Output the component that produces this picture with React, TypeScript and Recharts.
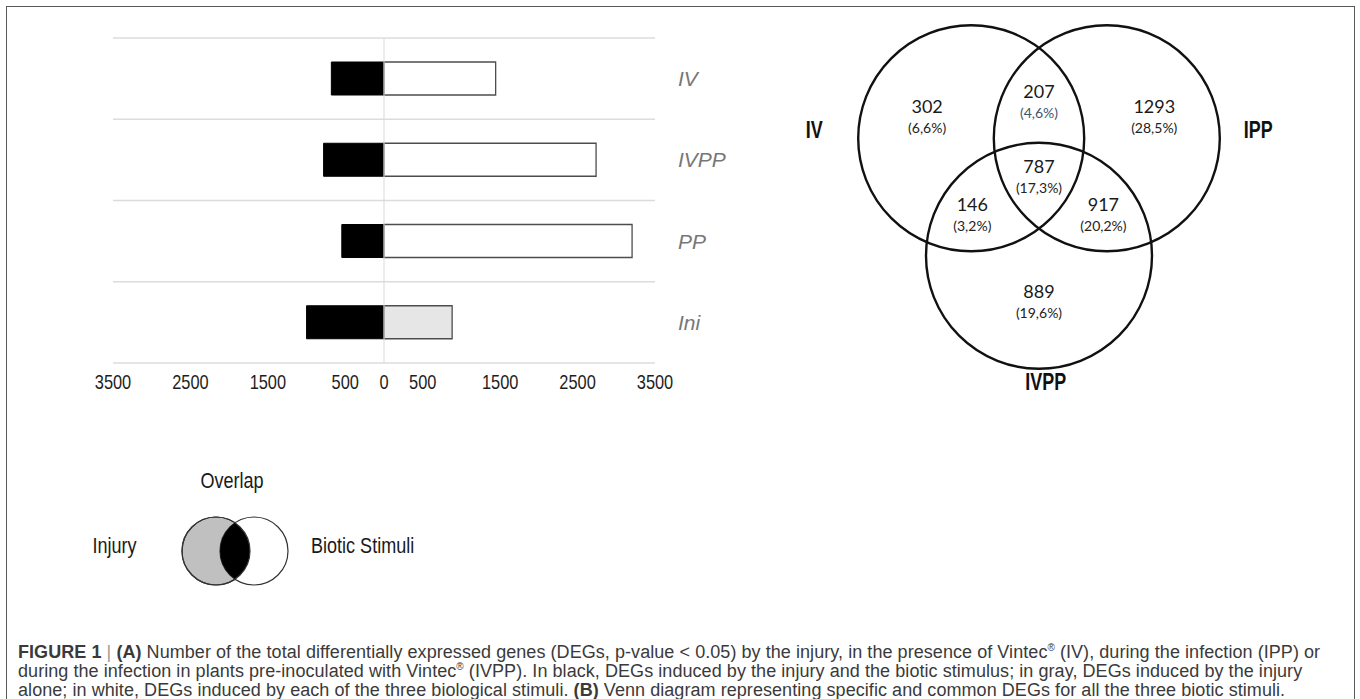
import React from 'react';
import {
  BarChart,
  Bar,
  XAxis,
  YAxis,
  ReferenceLine,
  CartesianGrid,
  Cell,
  ScatterChart,
  Scatter,
} from 'recharts';

// ---------- Panel A: diverging bar chart ----------
const categories = ['IV', 'IVPP', 'PP', 'Ini'];
// black: DEGs induced by the injury and the biotic stimulus (drawn to the left)
const sharedDEGs = [-680, -780, -545, -1000];
// white: DEGs induced by each stimulus; gray (Ini): injury alone
const specificDEGs = [1442, 2739, 3204, 880];
const specificFills = ['#ffffff', '#ffffff', '#ffffff', '#e6e6e6'];
const axisTicks = [-3500, -2500, -1500, -500, 0, 500, 1500, 2500, 3500];

// ---------- Panel B: Venn diagram ----------
const vennCounts = [302, 207, 1293, 787, 146, 917, 889];
const vennPercents = ['(6,6%)', '(4,6%)', '(28,5%)', '(17,3%)', '(3,2%)', '(20,2%)', '(19,6%)'];
const vennPercentColors = ['#222', '#3e5670', '#222', '#222', '#222', '#222', '#222'];
const vennLabelX = [-0.99, 0, 1.02, 0, -0.59, 0.57, 0];
const vennLabelY = [0.8, 0.93, 0.8, 0.27, -0.07, -0.07, -0.84];
const setNames = ['IV', 'IPP', 'IVPP'];
const setCenterX = [-0.6, 0.6, 0];
const setCenterY = [0.52, 0.52, -0.52];
const setRadius = [1, 1, 1];
const setLabelX = [-1.99, 1.94, 0.06];
const setLabelY = [0.59, 0.59, -1.64];

const PPU = 113; // pixels per Venn unit
const VENN_W = 634;
const VENN_H = 394;

const barData = categories.map((c, i) => ({
  name: c,
  shared: sharedDEGs[i],
  specific: specificDEGs[i],
}));

const circleData = setNames.map((n, i) => ({ x: setCenterX[i], y: setCenterY[i], r: setRadius[i], name: n }));
const regionData = vennCounts.map((c, i) => ({
  x: vennLabelX[i],
  y: vennLabelY[i],
  count: c,
  pct: vennPercents[i],
  color: vennPercentColors[i],
}));
const setLabelData = setNames.map((n, i) => ({ x: setLabelX[i], y: setLabelY[i], name: n }));

const NARROW = 'Liberation Sans, Arial, sans-serif';

// grid lines at the boundaries between category bands
const bandBoundaries = (props: any) => {
  const { offset } = props;
  return categories
    .map((_, i) => offset.top + (i * offset.height) / categories.length)
    .concat([offset.top + offset.height]);
};

const XTick = (props: any) => {
  const { x, y, payload } = props;
  return (
    <g transform={`translate(${x},${y})`}>
      <text
        transform="scale(0.82,1)"
        textAnchor="middle"
        dy={18}
        fontSize={20}
        fontFamily={NARROW}
        fill="#1e1e1e"
      >
        {Math.abs(payload.value)}
      </text>
    </g>
  );
};

const CatTick = (props: any) => {
  const { x, y, payload } = props;
  return (
    <text
      x={x + 15}
      y={y}
      dy={7.5}
      textAnchor="start"
      fontSize={21}
      fontStyle="italic"
      fontFamily="Liberation Sans, Arial, sans-serif"
      fill="#777"
    >
      {payload.value}
    </text>
  );
};

const CircleShape = (props: any) => {
  const { cx, cy, payload } = props;
  return <circle cx={cx} cy={cy} r={payload.r * PPU} fill="none" stroke="#111" strokeWidth={2.4} />;
};

const RegionShape = (props: any) => {
  const { cx, cy, payload } = props;
  return (
    <g>
      <text x={cx} y={cy} dy={6.5} textAnchor="middle" fontSize={18} fontFamily="Lato, sans-serif" fill="#1a1a1a">
        {payload.count}
      </text>
      <text x={cx} y={cy} dy={26.5} textAnchor="middle" fontSize={14} fontFamily="Lato, sans-serif" fill={payload.color}>
        {payload.pct}
      </text>
    </g>
  );
};

const SetLabelShape = (props: any) => {
  const { cx, cy, payload } = props;
  return (
    <g transform={`translate(${cx},${cy})`}>
      <text
        transform="scale(0.78,1)"
        textAnchor="middle"
        dy={8}
        fontSize={23}
        fontWeight="bold"
        fontFamily={NARROW}
        fill="#111"
      >
        {payload.name}
      </text>
    </g>
  );
};

const xHalf = VENN_W / 2 / PPU;
const yHalf = VENN_H / 2 / PPU;

const LegendGraphic = () => (
  <svg width={480} height={150} style={{ position: 'absolute', left: 0, top: 450 }}>
    <defs>
      <clipPath id="leftClip">
        <circle cx={216} cy={101} r={34} />
      </clipPath>
    </defs>
    <circle cx={216} cy={101} r={34} fill="#c0c0c0" stroke="#333" strokeWidth={1.2} />
    <circle cx={254} cy={101} r={34} fill="#fff" stroke="#333" strokeWidth={1.2} />
    <circle cx={254} cy={101} r={34} fill="#000" clipPath="url(#leftClip)" />
    <circle cx={216} cy={101} r={34} fill="none" stroke="#333" strokeWidth={1.2} />
    <g transform="translate(232,30)">
      <text transform="scale(0.82,1)" textAnchor="middle" dy={8} fontSize={22} fontFamily={NARROW} fill="#1a1a1a">
        Overlap
      </text>
    </g>
    <g transform="translate(114.5,95)">
      <text transform="scale(0.82,1)" textAnchor="middle" dy={8} fontSize={22} fontFamily={NARROW} fill="#1a1a1a">
        Injury
      </text>
    </g>
    <g transform="translate(311,95)">
      <text transform="scale(0.82,1)" textAnchor="start" dy={8} fontSize={22} fontFamily={NARROW} fill="#1a1a1a">
        Biotic Stimuli
      </text>
    </g>
  </svg>
);

const R = () => <sup style={{ fontSize: '10px', verticalAlign: 'super', lineHeight: 0 }}>®</sup>;

export default function App() {
  return (
    <div
      style={{
        position: 'absolute',
        left: 0,
        top: 0,
        width: 1360,
        height: 699,
        overflow: 'hidden',
        background: '#fff',
      }}
    >
      <div
        style={{
          position: 'absolute',
          left: 6,
          top: 6,
          width: 1347,
          height: 720,
          border: '1.5px solid #5a5a5a',
        }}
      />
      <div style={{ position: 'absolute', left: 0, top: 0 }}>
        <BarChart
          layout="vertical"
          width={760}
          height={420}
          data={barData}
          margin={{ top: 38, right: 0, bottom: 0, left: 113 }}
          stackOffset="sign"
          barSize={33}
        >
          <CartesianGrid
            yAxisId="cat"
            vertical={false}
            stroke="#dcdcdc"
            strokeWidth={1.5}
            horizontalCoordinatesGenerator={bandBoundaries}
          />
          <XAxis
            type="number"
            domain={[-3500, 3500]}
            ticks={axisTicks}
            interval={0}
            axisLine={false}
            tickLine={false}
            height={57}
            tick={<XTick />}
          />
          <YAxis
            yAxisId="cat"
            type="category"
            dataKey="name"
            orientation="right"
            width={105}
            axisLine={false}
            tickLine={false}
            tick={<CatTick />}
          />
          <ReferenceLine yAxisId="cat" x={0} stroke="#d9d9d9" strokeWidth={1} />
          <Bar yAxisId="cat" dataKey="shared" stackId="a" fill="#000" stroke="#000" strokeWidth={1} isAnimationActive={false} />
          <Bar yAxisId="cat" dataKey="specific" stackId="a" stroke="#4d4d4d" strokeWidth={1.3} isAnimationActive={false}>
            {specificFills.map((f, i) => (
              <Cell key={i} fill={f} />
            ))}
          </Bar>
        </BarChart>
      </div>

      <div style={{ position: 'absolute', left: 722, top: 0 }}>
        <ScatterChart width={VENN_W} height={VENN_H} margin={{ top: 0, right: 0, bottom: 0, left: 0 }}>
          <XAxis type="number" dataKey="x" domain={[-xHalf, xHalf]} hide />
          <YAxis type="number" dataKey="y" domain={[-yHalf, yHalf]} hide />
          <Scatter data={circleData} shape={CircleShape} isAnimationActive={false} />
          <Scatter data={regionData} shape={RegionShape} isAnimationActive={false} />
          <Scatter data={setLabelData} shape={SetLabelShape} isAnimationActive={false} />
        </ScatterChart>
      </div>

      <LegendGraphic />

      <div
        style={{
          position: 'absolute',
          left: 18,
          top: 643,
          width: 1335,
          fontFamily: 'Liberation Sans, Arial, sans-serif',
          fontSize: 18,
          letterSpacing: '0.06px',
          lineHeight: '19px',
          color: '#3a3a3a',
          whiteSpace: 'nowrap',
        }}
      >
        <b>FIGURE 1</b> <span style={{ color: '#999' }}>|</span> <b>(A)</b> Number of the total differentially expressed genes (DEGs, p-value &lt; 0.05) by the
        injury, in the presence of Vintec<R /> (IV), during the infection (IPP) or
        <br />
        during the infection in plants pre-inoculated with Vintec<R /> (IVPP). In black, DEGs induced by the injury and the biotic stimulus; in gray, DEGs induced by the injury
        <br />
        alone; in white, DEGs induced by each of the three biological stimuli. <b>(B)</b> Venn diagram representing specific and common DEGs for all the three biotic stimuli.
      </div>
    </div>
  );
}
